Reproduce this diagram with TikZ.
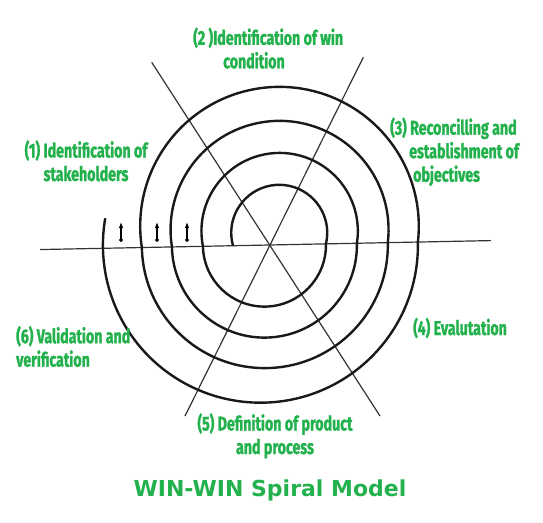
\documentclass[tikz,border=0pt]{standalone}
\usepackage{fontspec}
\usepackage{xcolor}
\usepackage{tikz}
\usetikzlibrary{arrows.meta}
\newfontfamily\lblfont{Fira Sans}[FakeStretch=0.71, FakeBold=1.3]
\newfontfamily\ttlfont{DejaVu Sans}
\definecolor{stagegreen}{RGB}{34,177,76}
\tikzset{
  spiral/.style={line width=2.4pt, draw=black!90},
  guide/.style={line width=1.2pt, draw=black!80},
  stage/.style={inner sep=0pt, text=stagegreen,
                font=\lblfont\bfseries\fontsize{20}{23.5}\selectfont},
  title/.style={inner sep=0pt, text=stagegreen,
                font=\ttlfont\bfseries\fontsize{22}{26}\selectfont},
  tick/.style={{Circle[length=3.8pt]}-{Latex[length=6pt,width=4.6pt]}, line width=1.1pt, black}
}

\begin{document}
\begin{tikzpicture}[x=1pt, y=-1pt]
  \useasboundingbox (0,0) rectangle (543,522);

  % spokes through the centre
  \coordinate (hub) at (270,245);
  \coordinate (nw) at (151.7,62.3);
  \coordinate (se) at (380,416);
  \coordinate (ne) at (363.3,57.3);
  \coordinate (sw) at (185,416);
  \draw[guide] (nw) -- (se);
  \draw[guide] (ne) -- (sw);

  \begin{scope}[rotate around={1.14:(270,245)}]
    \coordinate (west) at (40,245);
    \coordinate (east) at (491,245);
    \draw[guide] (west) -- (east);
    % spiral: upper and lower half turns
    \draw[spiral] (233,245)
      arc[start angle=165.5, end angle=374.5, radius=48]
      arc[start angle=0, end angle=180, radius=61.5]
      arc[start angle=169.9, end angle=370.1, radius=78.2]
      arc[start angle=0, end angle=180, radius=92.5]
      arc[start angle=172.1, end angle=367.9, radius=109]
      arc[start angle=0, end angle=180, radius=123]
      arc[start angle=172.3, end angle=367.7, radius=139.3]
      arc[start angle=0, end angle=191, radius=157.5];
  \end{scope}

  \foreach \x in {121,157,187}
    \draw[tick] (\x,242) -- (\x,222);

  \node[stage, anchor=base, align=center] (stakeholders) at (86,181)
    {(1) Identification of\\stakeholders};
  \node[stage, anchor=base west, align=left] (wincond) at (193,68.3)
    {(2 )Identification of win\\\hspace*{30pt}condition};
  \node[stage, anchor=base west, align=left] (objectives) at (390,181.7)
    {(3) Reconcilling and\\\hspace*{19pt}establishment of\\\hspace*{23pt}objectives};
  \node[stage, anchor=base west] (evaluation) at (413,335) {(4) Evalutation};
  \node[stage, anchor=base, align=center] (definition) at (275,454)
    {(5) Definition of product\\and process};
  \node[stage, anchor=base west, align=left] (validation) at (16,366.7)
    {(6) Validation and\\verification};

  \node[title, anchor=base] (caption) at (270,496) {WIN-WIN Spiral Model};
\end{tikzpicture}
\end{document}
